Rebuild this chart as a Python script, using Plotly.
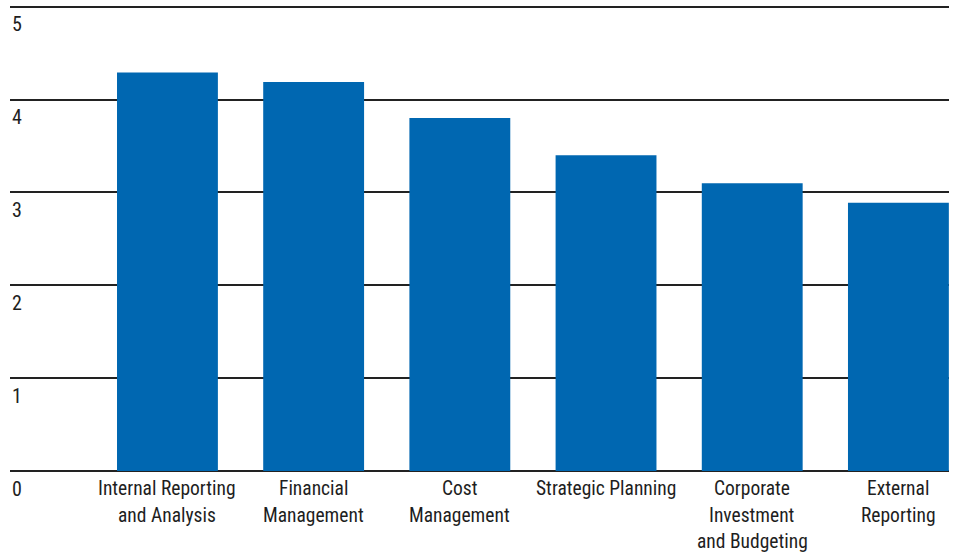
import plotly.graph_objects as go

# Scores by finance activity (0-5 scale)
categories = [
    "Internal Reporting and Analysis",
    "Financial Management",
    "Cost Management",
    "Strategic Planning",
    "Corporate Investment and Budgeting",
    "External Reporting",
]
label_lines = [
    ["Internal Reporting", "and Analysis"],
    ["Financial", "Management"],
    ["Cost", "Management"],
    ["Strategic Planning"],
    ["Corporate", "Investment", "and Budgeting"],
    ["External", "Reporting"],
]
scores = [4.29, 4.19, 3.80, 3.40, 3.10, 2.89]
y_ticks = [0, 1, 2, 3, 4, 5]

FONT = "Roboto Condensed, Liberation Sans Narrow, sans-serif"
TEXT = "#1e1e1e"
INK = "#222222"

fig = go.Figure(
    go.Bar(
        x=categories,
        y=scores,
        marker=dict(color="#0067b1", line=dict(width=0)),
        hoverinfo="x+y",
    )
)

# category labels, one line per annotation for a looser line spacing
for cat, lines in zip(categories, label_lines):
    for i, line in enumerate(lines):
        fig.add_annotation(
            x=cat, y=0, xref="x", yref="y",
            text=line, showarrow=False,
            xanchor="center", yanchor="middle",
            yshift=-17.5 - 26.5 * i,
            font=dict(family=FONT, size=19.5, color=TEXT),
        )

# value labels sit just below each gridline at the left edge
for v in y_ticks:
    fig.add_annotation(
        x=0, y=v, xref="paper", yref="y",
        text=str(v), showarrow=False,
        xanchor="left", yanchor="middle",
        yshift=-17.5,
        font=dict(family=FONT, size=20, color=TEXT),
    )

fig.update_layout(
    width=958,
    height=552,
    margin=dict(l=10, r=9, t=2, b=80),
    paper_bgcolor="white",
    plot_bgcolor="white",
    bargap=0.31,
    showlegend=False,
    font=dict(family=FONT, color=TEXT, size=19),
)

fig.update_xaxes(
    type="category",
    range=[-1.077, 5.346],
    showgrid=False,
    showline=False,
    zeroline=False,
    ticks="",
    showticklabels=False,
)

fig.update_yaxes(
    range=[-0.01, 5.05],
    tickvals=y_ticks,
    showgrid=True,
    gridcolor=INK,
    gridwidth=2,
    zeroline=True,
    zerolinecolor=INK,
    zerolinewidth=2,
    showline=False,
    ticks="",
    showticklabels=False,
    layer="below traces",
)

fig.write_html("out.html")
